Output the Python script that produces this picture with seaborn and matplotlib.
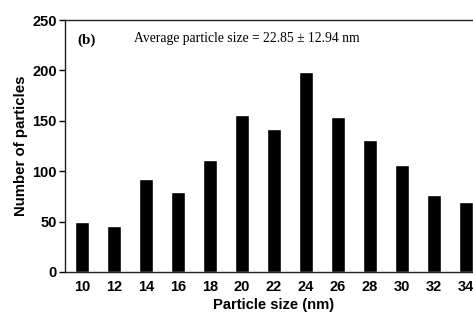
"""Particle size histogram, panel (b)."""

import matplotlib
matplotlib.use("Agg")
import matplotlib.pyplot as plt
import pandas as pd
import seaborn as sns

SIZES = [10, 12, 14, 16, 18, 20, 22, 24, 26, 28, 30, 32, 34]
COUNTS = [50, 46, 92, 79, 111, 156, 142, 198, 154, 131, 106, 76, 69]
Y_TICKS = [0, 50, 100, 150, 200, 250]


def main():
    sns.set_style("ticks")
    plt.rcParams.update(
        {
            "font.family": ["Liberation Sans", "DejaVu Sans"],
            "font.weight": "bold",
            "axes.linewidth": 1.0,
            "axes.edgecolor": "#222222",
            "text.color": "black",
            "axes.labelcolor": "black",
            "xtick.color": "black",
            "ytick.color": "black",
        }
    )

    data = pd.DataFrame({"size": [str(s) for s in SIZES], "count": COUNTS})

    fig = plt.figure(figsize=(4.73, 3.13), dpi=100)
    ax = fig.add_axes([0.1374, 0.131, 0.884, 0.805])
    sns.barplot(
        data=data, x="size", y="count", color="black", saturation=1,
        width=0.42, ax=ax,
    )
    ax.set_xlim(-0.53, 12.53)
    ax.set_ylim(0, 250)
    ax.set_yticks(Y_TICKS)
    ax.tick_params(axis="y", length=4.5, width=1, pad=1.5, labelsize=10.5)
    ax.tick_params(axis="x", length=0, pad=6, labelsize=10.5)
    for lbl in ax.get_xticklabels() + ax.get_yticklabels():
        lbl.set_fontweight("bold")
    ax.set_xlabel("Particle size (nm)", fontsize=10.6, fontweight="bold", labelpad=3)
    ax.set_ylabel("Number of particles", fontsize=10.8, fontweight="bold", labelpad=3)

    ax.text(0.03, 0.92, "(b)", transform=ax.transAxes, fontsize=11,
            fontweight="bold", family="Liberation Serif", va="center")
    ax.text(0.165, 0.925, "Average particle size = 22.85 \u00b1 12.94 nm",
            transform=ax.transAxes, fontsize=9.8, fontweight="normal",
            family="Liberation Serif", va="center")

    fig.savefig("out.png", dpi=100, facecolor="white")


if __name__ == "__main__":
    main()
